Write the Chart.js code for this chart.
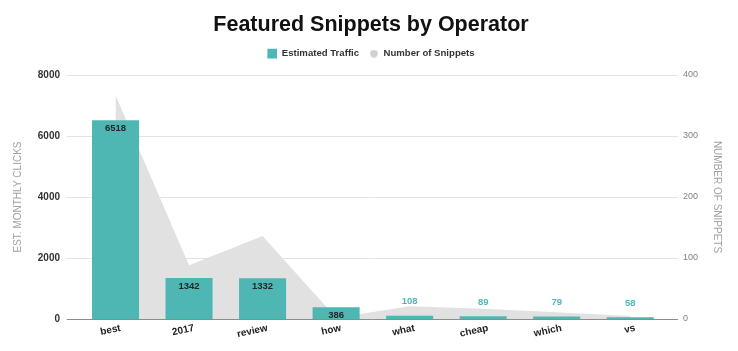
<!DOCTYPE html>
<html lang="en">
  <head>
    <meta charset="UTF-8" />
    <script src="https://cdn.jsdelivr.net/npm/chart.js@4.4.0/dist/chart.umd.min.js"></script>
    <title>Featured Snippets by Operator</title>
    <style>
      html, body { margin: 0; padding: 0; background: #fff; }
    </style>
  </head>
  <body>
    <canvas id="myChart" width="738" height="351"></canvas>
  </body>
  <script>
    // chart data
    var operators = ["best", "2017", "review", "how", "what", "cheap", "which", "vs"];
    var estTraffic = [6518, 1342, 1332, 386, 108, 89, 79, 58];
    var snippetCounts = [367, 88, 136, 2, 21, 17, 11, 5];
    var clicksAxis = [0, 8000, 2000]; // min, max, step
    var snippetsAxis = [0, 400, 100];

    var teal = "#4fb7b3";
    var areaGrey = "#e1e1e1";

    Chart.defaults.font.family = "'Liberation Sans', Arial, sans-serif";

    // small grey dot for the legend
    var dot = document.createElement("canvas");
    dot.width = 8;
    dot.height = 8;
    var dctx = dot.getContext("2d");
    dctx.fillStyle = "#cfcfcf";
    dctx.beginPath();
    dctx.arc(4, 4, 3.8, 0, Math.PI * 2);
    dctx.fill();

    // gridlines that run a little past the plot on both sides
    var gridLines = {
      id: "gridLines",
      beforeDatasetsDraw(chart) {
        var ctx = chart.ctx, area = chart.chartArea, y = chart.scales.y;
        ctx.save();
        ctx.lineWidth = 1;
        y.ticks.forEach(function (t) {
          if (t.value === 0) return;
          var py = Math.round(y.getPixelForValue(t.value)) + 0.5;
          ctx.strokeStyle = "#e3e3e3";
          ctx.beginPath();
          ctx.moveTo(area.left - 12, py);
          ctx.lineTo(area.right + 11, py);
          ctx.stroke();
        });
        ctx.restore();
      },
      afterDatasetsDraw(chart) {
        var ctx = chart.ctx, area = chart.chartArea, y = chart.scales.y;
        var py = Math.round(y.getPixelForValue(0)) + 0.5;
        ctx.save();
        ctx.strokeStyle = "#8c8c8c";
        ctx.lineWidth = 1;
        ctx.beginPath();
        ctx.moveTo(area.left - 12, py);
        ctx.lineTo(area.right + 11, py);
        ctx.stroke();
        ctx.restore();
      },
    };

    // value labels on bars + slanted category labels
    var barLabels = {
      id: "barLabels",
      afterDatasetsDraw(chart) {
        var ctx = chart.ctx;
        var meta = chart.getDatasetMeta(0);
        var x = chart.scales.x;
        ctx.save();
        ctx.font = "bold 9.5px 'Liberation Sans', Arial, sans-serif";
        ctx.textAlign = "center";
        ctx.textBaseline = "middle";
        meta.data.forEach(function (bar, i) {
          var v = estTraffic[i];
          if (v >= 200) {
            ctx.fillStyle = "#1b2626";
            ctx.fillText(v, bar.x, bar.y + 8);
          } else {
            ctx.fillStyle = teal;
            ctx.fillText(v, bar.x, bar.y - 14);
          }
        });

        ctx.font = "bold 10px 'Liberation Sans', Arial, sans-serif";
        ctx.fillStyle = "#222";
        ctx.textAlign = "right";
        operators.forEach(function (label, i) {
          ctx.save();
          ctx.translate(x.getPixelForTick(i) + 5, chart.chartArea.bottom + 9);
          ctx.rotate((-12 * Math.PI) / 180);
          ctx.fillText(label, 0, 0);
          ctx.restore();
        });
        ctx.restore();
      },
    };

    function plain(v) {
      return String(v);
    }

    new Chart("myChart", {
      data: {
        labels: operators,
        datasets: [
          {
            type: "bar",
            label: "Estimated Traffic",
            data: estTraffic,
            backgroundColor: teal,
            borderWidth: 0,
            barPercentage: 0.64,
            categoryPercentage: 1,
            pointStyle: "rect",
            yAxisID: "y",
            order: 0,
          },
          {
            type: "line",
            label: "Number of Snippets",
            data: snippetCounts,
            backgroundColor: areaGrey,
            borderWidth: 0,
            borderColor: areaGrey,
            fill: "origin",
            tension: 0,
            pointRadius: 0,
            pointStyle: dot,
            yAxisID: "y1",
            order: 1,
          },
        ],
      },
      options: {
        responsive: false,
        animation: false,
        layout: { padding: { left: 4, right: 0, top: 0, bottom: 32 } },
        plugins: {
          tooltip: { enabled: false },
          title: {
            display: true,
            text: "Featured Snippets by Operator",
            color: "#111",
            font: { size: 21.5, weight: "bold" },
            padding: { top: 12, bottom: 1 },
          },
          legend: {
            position: "top",
            labels: {
              usePointStyle: true,
              color: "#333",
              font: { size: 9.6, weight: "bold" },
              padding: 10,
            },
          },
          // empty box under the legend, only for spacing
          subtitle: {
            display: true,
            text: "",
            weight: 500,
            font: { size: 1 },
            padding: { top: 0, bottom: 5.4 },
          },
        },
        scales: {
          x: {
            ticks: { display: false },
            grid: { display: false },
            border: { display: false },
            afterFit: function (s) {
              s.height = 0;
            },
          },
          y: {
            position: "left",
            min: clicksAxis[0],
            max: clicksAxis[1],
            ticks: {
              stepSize: clicksAxis[2],
              color: "#333",
              font: { size: 10, weight: "bold" },
              padding: 18.75,
              callback: plain,
            },
            grid: { display: false, drawTicks: false },
            border: { display: false },
            title: {
              display: true,
              text: "EST. MONTHLY CLICKS",
              color: "#a3a3a3",
              font: { size: 10 },
              padding: { top: 8, bottom: 0 },
            },
            afterFit: function (s) {
              s.width = 74.75;
            },
          },
          y1: {
            position: "right",
            min: snippetsAxis[0],
            max: snippetsAxis[1],
            ticks: {
              stepSize: snippetsAxis[2],
              color: "#808080",
              font: { size: 9 },
              padding: 16,
              callback: plain,
            },
            grid: { display: false, drawTicks: false },
            border: { display: false },
            title: {
              display: true,
              text: "NUMBER OF SNIPPETS",
              color: "#a3a3a3",
              font: { size: 10 },
              padding: { top: 15, bottom: 0 },
            },
            afterFit: function (s) {
              s.width = 71;
            },
          },
        },
      },
      plugins: [gridLines, barLabels],
    });
  </script>
</html>
